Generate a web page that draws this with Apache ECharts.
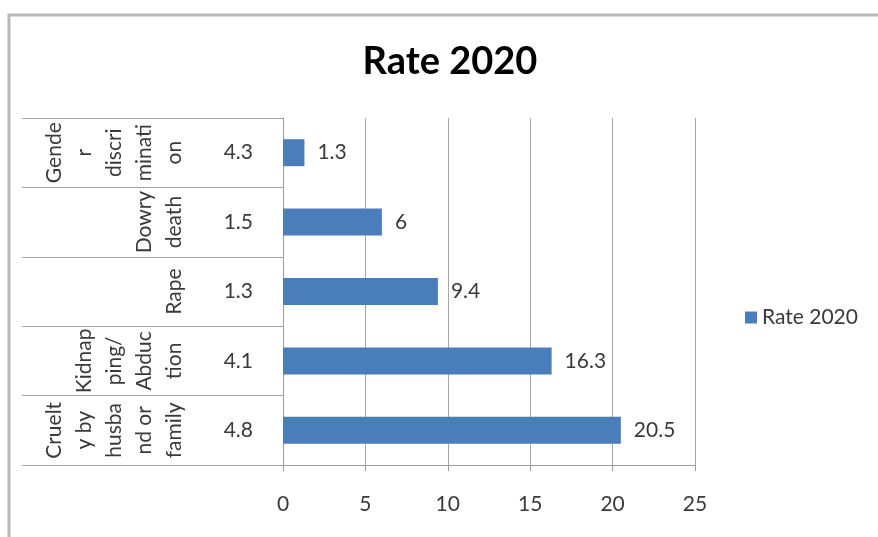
<!DOCTYPE html>
<html>
<head>
<meta charset="utf-8">
<script src="https://cdn.jsdelivr.net/npm/echarts@6/dist/echarts.min.js"></script>
<style>
html,body{margin:0;padding:0;background:#fff;}
#main{width:878px;height:537px;}
</style>
</head>
<body>
<div id="main"></div>
<script>
// Data (top-to-bottom order as in the reference)
const categoryLabels = [
  "Gende\nr\ndiscri\nminati\non",
  "Dowry\ndeath",
  "Rape",
  "Kidnap\nping/\nAbduc\ntion",
  "Cruelt\ny by\nhusba\nnd or\nfamily"
];
const innerLabels = ["4.3", "1.5", "1.3", "4.1", "4.8"];
const rate2020 = [1.3, 6, 9.4, 16.3, 20.5];
const seriesName = "Rate 2020";
const titleText = "Rate 2020";
const xTicks = [0, 5, 10, 15, 20, 25];

const FONT = "Lato";
const chart = echarts.init(document.getElementById('main'), null, {renderer: 'canvas'});
chart.setOption({
  animation: false,
  backgroundColor: '#ffffff',
  textStyle: {fontFamily: FONT},
  title: {
    text: titleText,
    left: 450, top: 43, padding: 0,
    textAlign: 'center',
    textStyle: {fontFamily: FONT, fontWeight: 'bold', fontSize: 38, color: '#000000'}
  },
  legend: {
    left: 745, top: 307, padding: 0,
    icon: 'rect', itemWidth: 12, itemHeight: 12,
    textStyle: {fontFamily: FONT, fontSize: 21, color: '#3a3a3a'},
    data: [seriesName]
  },
  grid: {left: 283, right: 183, top: 118, bottom: 72, containLabel: false, outerBoundsMode: 'none'},
  xAxis: {
    type: 'value',
    min: xTicks[0], max: xTicks[xTicks.length - 1], interval: 5,
    axisLine: {show: true, lineStyle: {color: '#9a9a9a', width: 1}},
    axisTick: {show: true, length: 6, lineStyle: {color: '#9a9a9a'}},
    axisLabel: {margin: 29, fontFamily: FONT, fontSize: 21, color: '#3a3a3a'},
    splitLine: {show: true, lineStyle: {color: '#a6a6a6', width: 1}}
  },
  yAxis: [
    {
      type: 'category',
      inverse: true,
      data: innerLabels,
      position: 'left',
      axisLine: {show: true, lineStyle: {color: '#9a9a9a', width: 1}},
      axisTick: {show: true, length: 261, interval: 0, lineStyle: {color: '#a0a0a0', width: 1}},
      axisLabel: {interval: 0, margin: 30, fontFamily: FONT, fontSize: 21, color: '#3a3a3a'},
      splitLine: {show: false}
    },
    {
      type: 'category',
      inverse: true,
      data: categoryLabels,
      position: 'left',
      axisLine: {show: false},
      axisTick: {show: false},
      axisLabel: {interval: 0, rotate: 90, margin: 94, fontFamily: FONT, fontSize: 21, lineHeight: 30, color: '#3a3a3a'},
      splitLine: {show: false}
    }
  ],
  series: [{
    name: seriesName,
    type: 'bar',
    yAxisIndex: 0,
    data: rate2020,
    barWidth: 27,
    itemStyle: {color: '#4a7ebb'},
    label: {show: true, position: 'right', distance: 13, fontFamily: FONT, fontSize: 21, color: '#3a3a3a'}
  }],
  graphic: [{
    type: 'rect',
    shape: {x: 9, y: 15, width: 900, height: 600},
    style: {fill: 'none', stroke: '#b8b8b8', lineWidth: 3},
    silent: true, z: -1
  }]
});
</script>
</body>
</html>
